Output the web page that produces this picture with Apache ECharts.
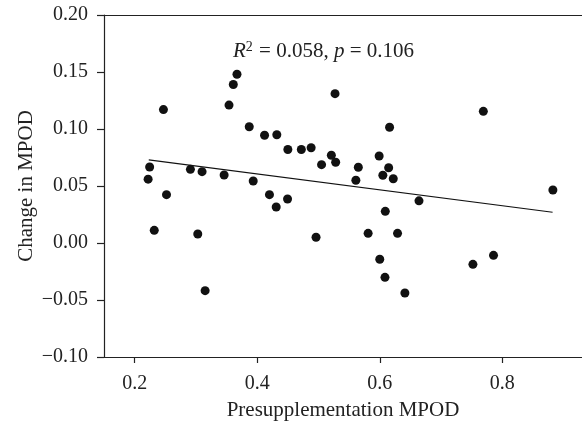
<!DOCTYPE html>
<html>
<head>
<meta charset="utf-8">
<script src="https://cdn.jsdelivr.net/npm/echarts@6/dist/echarts.min.js"></script>
<style>html,body{margin:0;padding:0;background:#fff}#c{width:582px;height:427px}</style>
</head>
<body>
<div id="c"></div>
<script>
// Presupplementation MPOD (x) vs change in MPOD (y)
const xValues = [0.247,0.361,0.367,0.354,0.387,0.412,0.432,0.450,0.472,0.488,0.527,0.521,0.528,0.505,0.2245,0.222,0.252,0.291,0.310,0.346,0.3935,0.420,0.4495,0.232,0.303,0.315,0.431,0.496,0.769,0.616,0.599,0.565,0.6145,0.605,0.622,0.561,0.8825,0.664,0.609,0.581,0.629,0.600,0.6085,0.641,0.752,0.7856];
const yValues = [0.117,0.139,0.148,0.121,0.102,0.0945,0.095,0.082,0.082,0.0836,0.131,0.077,0.0708,0.0687,0.0667,0.056,0.0424,0.0646,0.0626,0.0596,0.0544,0.0424,0.0386,0.0111,0.0079,-0.0418,0.0316,0.005,0.1155,0.1015,0.0763,0.0664,0.066,0.0594,0.0564,0.055,0.0465,0.037,0.0278,0.0085,0.0085,-0.0143,-0.0301,-0.0439,-0.0187,-0.0108];
const fitX = [0.223, 0.882];
const fitY = [0.073, 0.027];
const xTicks = [0.2, 0.4, 0.6, 0.8];
const annotation = {r2: '0.058', p: '0.106'};

const FONT = 'Liberation Serif';
const FS = 20;
const AX = '#222';

const chart = echarts.init(document.getElementById('c'), null, {renderer: 'canvas'});
chart.setOption({
  animation: false,
  backgroundColor: '#fff',
  grid: {left: 104, top: 15, right: 0, bottom: 70, containLabel: false},
  xAxis: [{
    type: 'value', min: 0.15, max: 0.93, position: 'bottom',
    name: 'Presupplementation MPOD', nameLocation: 'middle', nameGap: 43, nameMoveOverlap: false,
    nameTextStyle: {fontFamily: FONT, fontSize: 21, color: '#222'},
    axisLine: {show: true, onZero: false, lineStyle: {color: AX, width: 1.2}},
    axisTick: {show: true, length: 6, customValues: xTicks, lineStyle: {color: AX, width: 1.2}},
    axisLabel: {customValues: xTicks, margin: 17, fontFamily: FONT, fontSize: FS, color: '#222',
      formatter: v => v.toFixed(1)},
    splitLine: {show: false}
  }, {
    type: 'value', min: 0.15, max: 0.93, position: 'top',
    axisLine: {show: true, onZero: false, lineStyle: {color: AX, width: 1.2}},
    axisTick: {show: false}, axisLabel: {show: false}, splitLine: {show: false}
  }],
  yAxis: {
    type: 'value', min: -0.1, max: 0.2, interval: 0.05,
    name: 'Change in MPOD', nameLocation: 'middle', nameGap: 67, nameRotate: 90, nameMoveOverlap: false,
    nameTextStyle: {fontFamily: FONT, fontSize: 21, color: '#222'},
    axisLine: {show: true, onZero: false, lineStyle: {color: AX, width: 1.2}},
    axisTick: {show: true, length: 7, lineStyle: {color: AX, width: 1.2}},
    axisLabel: {margin: 16, fontFamily: FONT, fontSize: FS, color: '#222',
      formatter: v => { const s = Math.abs(v).toFixed(2); return (v < -1e-9 ? '\u2212' : '') + s; }},
    splitLine: {show: false}
  },
  graphic: [{
    type: 'text', left: 233, top: 40,
    style: {
      text: '{i|R}{sup|2}{n| = ' + annotation.r2 + ', }{i|p}{n| = ' + annotation.p + '}',
      rich: {
        i: {fontFamily: FONT, fontSize: 21, fontStyle: 'italic', fill: '#222', verticalAlign: 'bottom'},
        sup: {fontFamily: FONT, fontSize: 14, fill: '#222', verticalAlign: 'top', padding: [0,1,8,0]},
        n: {fontFamily: FONT, fontSize: 21, fill: '#222', verticalAlign: 'bottom'}
      }
    }
  }],
  series: [{
    type: 'scatter', xAxisIndex: 0,
    data: xValues.map((x, i) => [x, yValues[i]]),
    symbol: 'circle', symbolSize: 9,
    itemStyle: {color: '#111', opacity: 1}
  }, {
    type: 'line', xAxisIndex: 0,
    data: fitX.map((x, i) => [x, fitY[i]]),
    showSymbol: false, symbol: 'none',
    lineStyle: {color: '#111', width: 1.2}
  }]
});
</script>
</body>
</html>
